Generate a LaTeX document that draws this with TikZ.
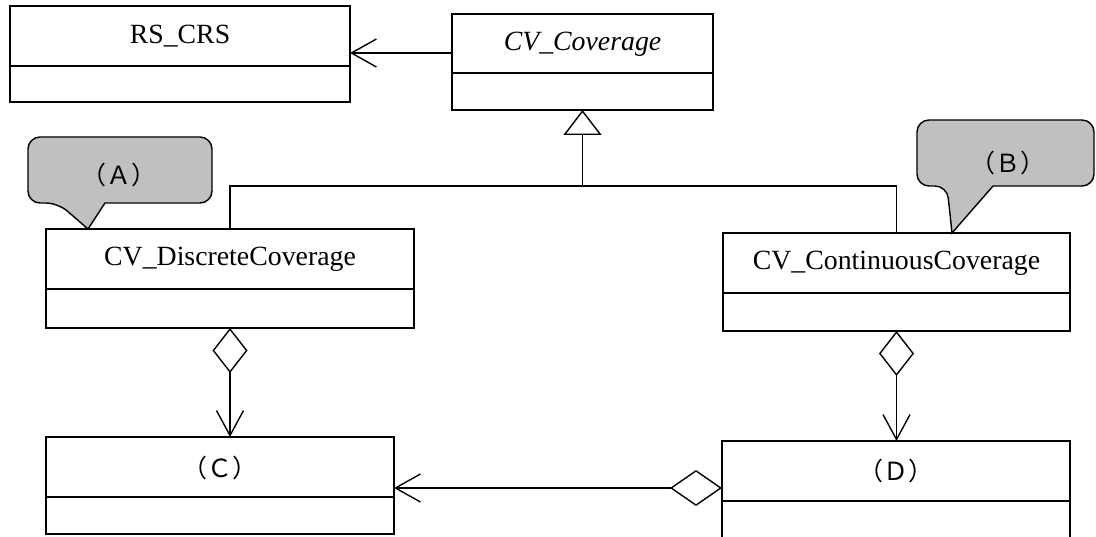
\documentclass[tikz,border=0pt]{standalone}
\usepackage{fontspec}
\setmainfont{Liberation Serif}
\newfontfamily\cjk{Noto Sans CJK JP}
\usetikzlibrary{arrows.meta}
\definecolor{calloutgray}{RGB}{192,192,192}
\begin{document}
\begin{tikzpicture}[x=1pt,y=-1pt,
  umlbox/.style={draw, line width=1.7pt, inner sep=0pt, outer sep=0pt, anchor=north west},
  titletext/.style={font=\fontsize{27.8}{33}\selectfont, inner sep=0pt},
  lettertext/.style={font=\cjk\fontsize{25}{30}\selectfont, inner sep=0pt},
  conn/.style={line width=1.4pt},
  callout/.style={fill=calloutgray, draw, line width=1.4pt},
  barb/.style={-{Straight Barb[length=25pt,width=28pt]}},
  dbarb/.style={{Diamond[open,length=45pt,width=35pt]}-{Straight Barb[length=25pt,width=27pt]}}
]
\useasboundingbox (0,0) rectangle (1096,537);
\clip (0,0) rectangle (1096,537);

% boxes
\node[umlbox, minimum width=340pt, minimum height=96pt] (rs) at (10,6) {};
\node[umlbox, minimum width=261pt, minimum height=96pt] (cov) at (452,14) {};
\node[umlbox, minimum width=368pt, minimum height=99pt] (disc) at (46,229) {};
\node[umlbox, minimum width=347pt, minimum height=98pt] (cont) at (723,233) {};
\node[umlbox, minimum width=348pt, minimum height=97pt] (cbox) at (46,437) {};
\node[umlbox, minimum width=348pt, minimum height=130pt] (dbox) at (722,441) {};

% dividers
\draw[line width=1.7pt] (rs.west |- 0,66) -- (rs.east |- 0,66);
\draw[line width=1.7pt] (cov.west |- 0,73) -- (cov.east |- 0,73);
\draw[line width=1.7pt] (disc.west |- 0,289) -- (disc.east |- 0,289);
\draw[line width=1.7pt] (cont.west |- 0,293) -- (cont.east |- 0,293);
\draw[line width=1.7pt] (cbox.west |- 0,497) -- (cbox.east |- 0,497);
\draw[line width=1.7pt] (dbox.west |- 0,501) -- (dbox.east |- 0,501);

% titles
\node[titletext] (trs) at (180,36) {RS\_CRS};
\node[titletext] (tcov) at (582.5,44) {\itshape CV\_Coverage};
\node[titletext] (tdisc) at (230,259) {CV\_DiscreteCoverage};
\node[titletext] (tcont) at (896.5,263) {CV\_ContinuousCoverage};
\node[lettertext] (tc) at (220,468) {（Ｃ）};
\node[lettertext] (td) at (896,471) {（Ｄ）};

% callouts
\draw[callout] (58,203) -- (88,229) -- (105,203) [rounded corners=12pt] -- (212,203) -- (212,137) -- (28,137) -- (28,203) -- cycle;
\node[lettertext] (la) at (119,175) {（Ａ）};
\draw[callout] (947,186) -- (952,233) -- (993,186) [rounded corners=12pt] -- (1094,186) -- (1094,120) -- (917,120) -- (917,186) -- cycle;
\node[lettertext] (lb) at (1008,163) {（Ｂ）};

% connectors
\draw[conn, barb] (cov.west |- 0,53) -- (rs.east |- 0,53);
\coordinate (j) at (cov.south |- 0,186);
\draw[conn] (disc.north) |- (j) -| (cont.north);
\draw[conn, -{Triangle[open,length=25pt,width=38pt]}] (j) -- (cov.south);
\draw[conn, dbarb] (disc.south) -- (disc.south |- cbox.north);
\draw[conn, dbarb] (cont.south) -- (cont.south |- dbox.north);
\draw[conn, {Diamond[open,length=52pt,width=36pt]}-{Straight Barb[length=25pt,width=28pt]}] (dbox.west |- 0,488) -- (cbox.east |- 0,488);
\end{tikzpicture}
\end{document}
